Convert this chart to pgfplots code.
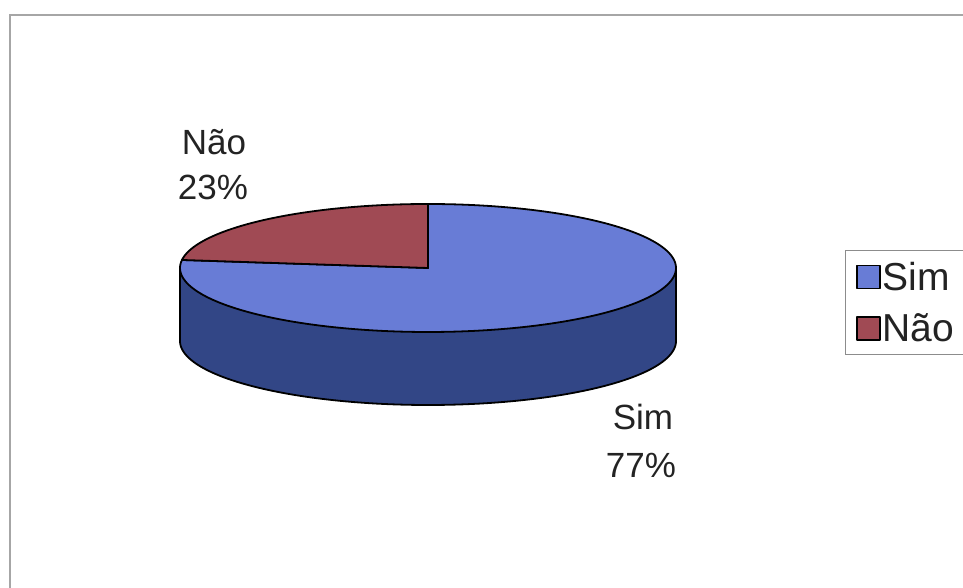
\documentclass[border=0pt]{standalone}
\usepackage{fontspec}
\setmainfont{Liberation Sans}
\usepackage{pgfplots}
\pgfplotsset{compat=1.18}
\definecolor{simtop}{RGB}{104,124,214}
\definecolor{simside}{RGB}{50,70,134}
\definecolor{naotop}{RGB}{160,74,84}
\definecolor{txt}{RGB}{35,35,35}
% data
\def\vSim{77}
\def\vNao{23}
\pgfmathsetmacro\aA{90}
\pgfmathsetmacro\aB{90+360*\vNao/(\vSim+\vNao)}
\pgfmathsetmacro\aC{450}
\begin{document}
\begin{tikzpicture}
\useasboundingbox (0,0) rectangle (963pt,588pt);
\clip (0,0) rectangle (963pt,588pt);
\begin{axis}[
  at={(0,0)}, anchor=south west,
  width=963pt, height=588pt, scale only axis,
  xmin=0, xmax=963, ymin=0, ymax=588,
  hide axis, clip=false, samples=181,
  legend cell align=left,
  legend style={at={(axis cs:845,338)}, anchor=north west,
    draw=black!45, line width=0.9pt, fill=white,
    font=\fontsize{39}{45}\selectfont,
    text=txt,
    inner xsep=11pt, inner ysep=10pt, row sep=19pt,
    nodes={inner sep=1.5pt}},
  legend image code/.code={\draw[#1, draw=black, line width=1.6pt] (0pt,-11.5pt) rectangle (23pt,11.5pt);},
]
% border
\draw[black!35, line width=1.1pt] (axis cs:10,-20) -- (axis cs:10,573) -- (axis cs:990,573);
% side
\addplot[fill=simside, draw=black, line width=1.8pt, line join=round, domain=180:360, forget plot]
  ({428+248*cos(x)},{247+64*sin(x)}) -- (axis cs:676,320) -- (axis cs:180,320) -- cycle;
% top faces
\addplot[fill=simtop, draw=black, line width=1.8pt, line join=round, domain=\aB:\aC]
  ({428+248*cos(x)},{320+64*sin(x)}) -- (axis cs:428,320) -- cycle;
\addlegendentry{Sim}
\addplot[fill=naotop, draw=black, line width=1.8pt, line join=round, domain=\aA:\aB]
  ({428+248*cos(x)},{320+64*sin(x)}) -- (axis cs:428,320) -- cycle;
\addlegendentry{Não}
% labels
\node[anchor=base, font=\fontsize{35}{42}\selectfont, text=txt] at (axis cs:214,433) {Não};
\node[anchor=base, font=\fontsize{35}{42}\selectfont, text=txt] at (axis cs:213,388) {23\%};
\node[anchor=base, font=\fontsize{35}{42}\selectfont, text=txt] at (axis cs:643,158) {Sim};
\node[anchor=base, font=\fontsize{35}{42}\selectfont, text=txt] at (axis cs:641,110) {77\%};
\end{axis}
\end{tikzpicture}
\end{document}
